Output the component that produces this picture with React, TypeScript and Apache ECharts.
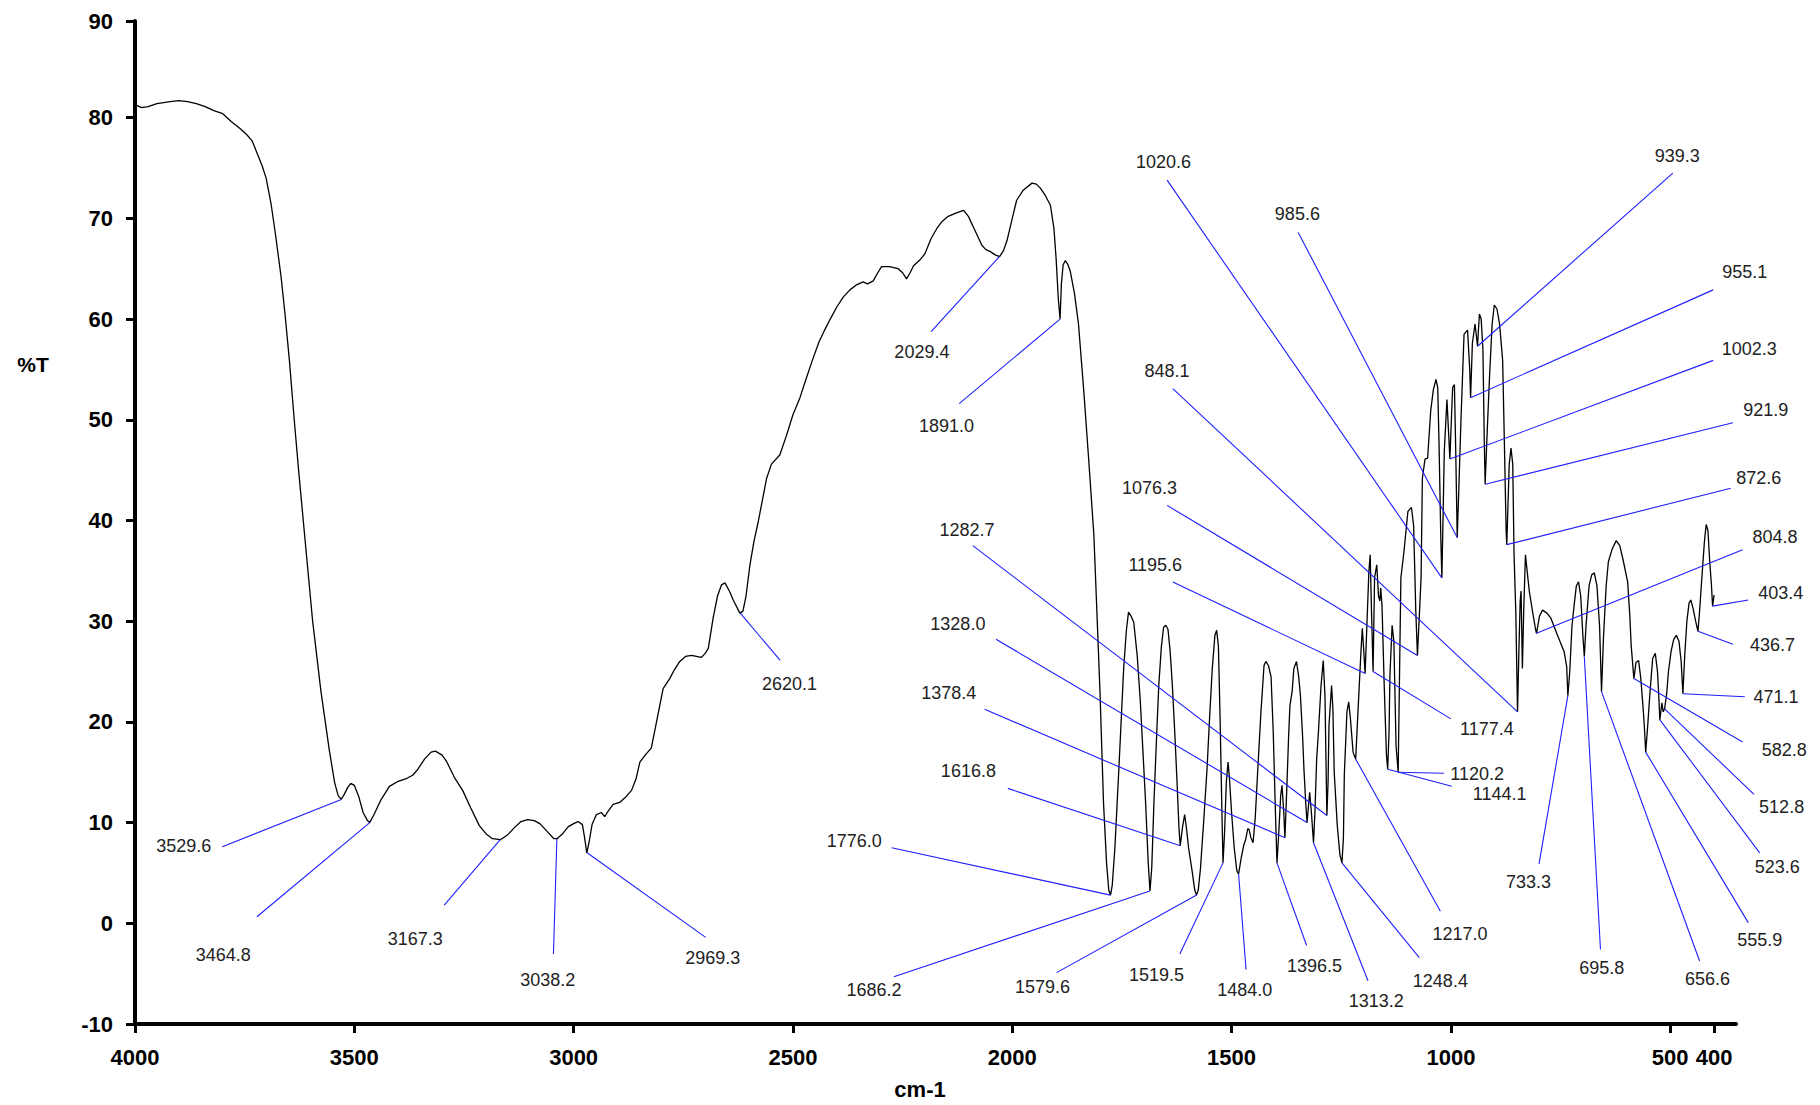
import { useEffect, useRef } from "react";
import * as echarts from "echarts";

// Spectrum: [wavenumber (cm-1), %T]
const spectrum: [number, number][] = [
  [4000, 81.3], [3985, 81.0], [3970, 81.1], [3950, 81.4], [3920, 81.6], [3900, 81.7], [3880, 81.6], [3860, 81.4],
  [3840, 81.1], [3820, 80.7], [3800, 80.4], [3780, 79.6], [3760, 78.9], [3745, 78.3], [3733, 77.7], [3720, 76.3],
  [3710, 75.2], [3701, 74.0], [3690, 71.5], [3680, 68.5], [3667, 64.2], [3658, 60.5], [3648, 55.9], [3637, 50.0],
  [3626, 44.5], [3610, 37.0], [3595, 30.0], [3576, 23.0], [3557, 17.2], [3545, 14.0], [3537, 12.7], [3530, 12.3],
  [3523, 12.8], [3515, 13.5], [3508, 13.9], [3500, 13.7], [3490, 12.6], [3480, 11.0], [3470, 10.2], [3465, 10.0],
  [3455, 10.8], [3440, 12.2], [3420, 13.6], [3400, 14.1], [3380, 14.4], [3367, 14.7], [3355, 15.3], [3340, 16.3],
  [3325, 17.0], [3315, 17.1], [3300, 16.7], [3290, 16.1], [3272, 14.5], [3253, 13.2], [3235, 11.5], [3215, 9.7],
  [3200, 8.9], [3185, 8.4], [3167, 8.3], [3150, 8.8], [3135, 9.5], [3120, 10.1], [3105, 10.3], [3090, 10.2],
  [3077, 9.9], [3060, 9.1], [3045, 8.4], [3038, 8.4], [3025, 8.9], [3012, 9.6], [3000, 9.9], [2990, 10.1],
  [2980, 9.8], [2975, 8.5], [2970, 7.0], [2965, 8.0], [2958, 9.8], [2948, 10.8], [2937, 11.0], [2929, 10.6],
  [2922, 11.1], [2910, 11.8], [2895, 12.0], [2880, 12.6], [2868, 13.2], [2858, 14.3], [2849, 16.0], [2835, 16.8],
  [2823, 17.4], [2811, 20.0], [2796, 23.3], [2781, 24.3], [2770, 25.2], [2758, 26.0], [2745, 26.5], [2731, 26.6],
  [2720, 26.5], [2709, 26.4], [2700, 26.8], [2693, 27.3], [2682, 30.3], [2672, 32.5], [2663, 33.6], [2655, 33.8],
  [2645, 33.0], [2635, 32.0], [2621, 30.8], [2614, 31.0], [2607, 32.5], [2598, 35.6], [2589, 37.9], [2579, 39.9],
  [2560, 44.2], [2549, 45.6], [2530, 46.5], [2515, 48.4], [2500, 50.5], [2484, 52.2], [2469, 54.2], [2455, 56.0],
  [2440, 57.8], [2429, 58.8], [2415, 60.0], [2400, 61.2], [2385, 62.2], [2370, 62.9], [2355, 63.4], [2340, 63.7],
  [2330, 63.5], [2317, 63.8], [2308, 64.5], [2298, 65.2], [2280, 65.2], [2260, 65.0], [2250, 64.6], [2241, 64.0],
  [2233, 64.6], [2225, 65.3], [2210, 65.9], [2199, 66.5], [2185, 68.0], [2172, 69.0], [2160, 69.7], [2146, 70.2],
  [2130, 70.5], [2111, 70.8], [2100, 70.2], [2085, 68.8], [2069, 67.3], [2060, 66.9], [2050, 66.7], [2040, 66.4],
  [2029, 66.2], [2020, 66.8], [2012, 67.8], [2000, 70.0], [1990, 71.8], [1975, 72.8], [1955, 73.5], [1945, 73.4],
  [1936, 73.0], [1925, 72.3], [1913, 71.3], [1905, 69.0], [1900, 66.0], [1895, 62.0], [1891, 60.0], [1888, 63.5],
  [1884, 65.4], [1879, 65.8], [1873, 65.4], [1868, 64.8], [1858, 62.5], [1849, 59.5], [1837, 52.9], [1826, 46.2],
  [1814, 38.6], [1808, 32.0], [1800, 23.0], [1792, 12.0], [1785, 6.0], [1780, 3.3], [1776, 2.8], [1772, 3.8],
  [1766, 7.5], [1757, 15.3], [1746, 25.3], [1740, 29.0], [1735, 30.9], [1729, 30.5], [1723, 29.9], [1715, 26.5],
  [1708, 22.0], [1702, 17.0], [1696, 12.0], [1690, 6.0], [1686, 3.2], [1682, 5.5], [1677, 12.0], [1671, 18.5],
  [1666, 23.6], [1660, 27.5], [1655, 29.4], [1650, 29.6], [1645, 29.2], [1640, 27.0], [1635, 23.6], [1629, 18.5],
  [1624, 13.7], [1620, 9.5], [1617, 7.7], [1612, 9.5], [1607, 10.8], [1603, 9.5], [1598, 7.5], [1590, 5.2],
  [1584, 3.3], [1580, 2.8], [1576, 3.3], [1571, 5.4], [1563, 10.5], [1556, 15.3], [1550, 20.5], [1544, 25.3],
  [1538, 28.6], [1534, 29.1], [1530, 27.5], [1526, 20.0], [1522, 11.0], [1519.5, 6.0], [1516, 9.0], [1512, 14.0],
  [1508, 16.0], [1505, 14.5], [1500, 11.0], [1494, 7.5], [1488, 5.2], [1484, 4.9], [1478, 6.5], [1472, 7.8],
  [1468, 8.3], [1463, 9.4], [1460, 9.3], [1456, 8.5], [1451, 8.0], [1446, 10.5], [1440, 15.5], [1433, 21.0],
  [1426, 25.6], [1422, 26.0], [1416, 25.6], [1410, 24.5], [1405, 19.0], [1400, 11.0], [1396.5, 6.0], [1393, 8.5],
  [1388, 12.7], [1385, 13.7], [1381, 11.0], [1378.4, 8.5], [1374, 13.5], [1370, 18.5], [1367, 21.6], [1362, 23.0],
  [1358, 25.3], [1352, 26.0], [1347, 24.5], [1343, 22.6], [1338, 18.5], [1335, 15.3], [1331, 12.0], [1328, 10.0],
  [1325, 11.5], [1322, 13.0], [1318, 11.0], [1313.2, 8.0], [1310, 11.0], [1306, 16.3], [1302, 19.0], [1296, 23.6],
  [1291, 26.1], [1287, 22.5], [1284, 14.0], [1282.7, 10.7], [1280, 14.0], [1278, 19.6], [1272, 23.6], [1269, 21.3],
  [1266, 15.0], [1259, 9.7], [1253, 6.8], [1248.4, 6.0], [1245, 8.5], [1243, 14.7], [1237, 21.0], [1233, 22.0],
  [1229, 20.3], [1223, 17.0], [1217, 16.3], [1213, 20.0], [1209, 23.5], [1205, 27.0], [1202, 29.3], [1199, 27.3],
  [1195.6, 24.8], [1192, 29.0], [1187, 34.9], [1184, 36.6], [1181, 31.0], [1177.4, 25.0], [1174, 34.3], [1169, 35.6],
  [1165, 32.5], [1162, 32.0], [1160, 33.3], [1157, 31.5], [1152, 23.6], [1147, 16.8], [1144.1, 15.3], [1141, 19.0],
  [1139, 24.6], [1134, 29.6], [1130, 28.0], [1125, 17.6], [1120.2, 15.0], [1117, 25.0], [1114, 34.3], [1107, 36.9],
  [1098, 40.9], [1090, 41.3], [1085, 39.5], [1080, 31.0], [1076.3, 26.6], [1072, 30.5], [1068, 34.3], [1065, 44.2],
  [1059, 46.1], [1053, 46.2], [1046, 50.9], [1040, 53.0], [1034, 54.0], [1030, 53.2], [1027, 47.6], [1023, 38.3],
  [1020.6, 34.3], [1018, 40.0], [1015, 46.9], [1009, 52.0], [1005, 48.5], [1002.3, 46.1], [998, 51.0], [996, 53.2],
  [992, 53.5], [989, 47.0], [985.6, 38.3], [982, 43.0], [977, 50.0], [970, 58.5], [962, 58.9], [957, 55.0],
  [955.1, 52.2], [951, 57.6], [945, 59.5], [941, 58.0], [939.3, 57.3], [935, 60.5], [931, 60.0], [927, 57.0],
  [924, 48.2], [921.9, 43.6], [918, 48.0], [912, 54.2], [906, 59.5], [901, 61.4], [895, 61.0], [889, 59.5],
  [882, 55.9], [878, 47.6], [874, 38.9], [872.6, 37.6], [867, 45.6], [863, 47.2], [859, 45.6], [856, 36.6],
  [852, 30.9], [848.1, 21.0], [845, 27.0], [842, 32.0], [840, 33.0], [837, 25.3], [834, 31.0], [830, 36.6],
  [825, 34.5], [821, 32.9], [814, 31.0], [807, 29.2], [804.8, 28.8], [798, 30.5], [791, 31.1], [781, 30.8],
  [772, 30.3], [757, 28.6], [742, 27.0], [736, 25.5], [733.3, 22.6], [729, 25.0], [724, 29.5], [719, 31.6],
  [714, 33.5], [709, 33.9], [704, 32.5], [699, 28.5], [695.8, 26.5], [692, 29.5], [685, 33.5], [679, 34.6],
  [673, 34.8], [667, 33.5], [661, 29.5], [656.6, 23.0], [652, 28.5], [646, 33.5], [641, 35.9], [632, 37.2],
  [623, 38.0], [615, 37.5], [608, 36.2], [597, 33.9], [592, 30.5], [589, 27.6], [582.8, 24.3], [578, 25.9],
  [572, 26.1], [567, 24.3], [562, 21.5], [559, 19.6], [555.9, 17.0], [551, 19.8], [546, 23.0], [540, 26.3],
  [534, 26.8], [529, 25.0], [526, 22.5], [523.6, 20.2], [519, 21.9], [516, 21.0], [512.8, 21.3], [508, 22.8],
  [504, 25.0], [498, 27.0], [492, 28.2], [486, 28.6], [480, 28.0], [475, 26.0], [471.1, 22.8], [467, 26.5],
  [462, 30.0], [457, 31.8], [453, 32.1], [448, 31.3], [442, 30.0], [436.7, 29.0], [433, 31.0], [429, 33.6],
  [422, 37.9], [418, 39.6], [414, 39.0], [410, 36.0], [406, 33.6], [403.4, 31.5], [400, 32.6],
];

// Peak annotations
const peakNames = [
  "3529.6", "3464.8", "3167.3", "3038.2", "2969.3", "2620.1", "2029.4", "1891.0", "1776.0", "1686.2",
  "1616.8", "1579.6", "1519.5", "1484.0", "1396.5", "1313.2", "1248.4", "1217.0", "1144.1", "1120.2",
  "1177.4", "1195.6", "1076.3", "1282.7", "1328.0", "1378.4", "848.1", "1020.6", "985.6", "939.3",
  "955.1", "1002.3", "921.9", "872.6", "804.8", "403.4", "436.7", "471.1", "582.8", "512.8",
  "523.6", "555.9", "656.6", "695.8", "733.3",
];
// where each leader starts (on the peak): [cm-1, %T]
const peakPoints: [number, number][] = [
  [3529.6, 12.3], [3464.8, 10.0], [3167.3, 8.3], [3038.2, 8.4], [2969.3, 7.0], [2620.1, 30.8], [2029.4, 66.2], [1891.0, 60.0], [1776.0, 2.8], [1686.2, 3.2],
  [1616.8, 7.7], [1579.6, 2.8], [1519.5, 6.0], [1484.0, 4.9], [1396.5, 6.0], [1313.2, 8.0], [1248.4, 6.0], [1217.0, 16.3], [1144.1, 15.3], [1120.2, 15.0],
  [1177.4, 25.0], [1195.6, 24.8], [1076.3, 26.6], [1282.7, 10.7], [1328.0, 10.0], [1378.4, 8.5], [848.1, 21.0], [1020.6, 34.3], [985.6, 38.3], [939.3, 57.3],
  [955.1, 52.2], [1002.3, 46.1], [921.9, 43.6], [872.6, 37.6], [804.8, 28.8], [403.4, 31.5], [436.7, 29.0], [471.1, 22.8], [582.8, 24.3], [512.8, 21.3],
  [523.6, 20.2], [555.9, 17.0], [656.6, 23.0], [695.8, 26.5], [733.3, 22.6],
];
// where each leader ends (near its label): [cm-1, %T]
const leaderEnds: [number, number][] = [
  [3801, 7.6], [3722, 0.65], [3295, 1.8], [3046, -3.05], [2699, -1.4], [2529, 26.1], [2185, 58.75], [2121, 51.6], [2275, 7.5], [2270, -5.3],
  [2010, 13.4], [1899, -4.9], [1618, -3.05], [1467, -4.6], [1329, -2.2], [1189, -5.7], [1072, -3.4], [1024, 1.2], [998, 13.6], [1016, 14.9],
  [1000, 20.3], [1634, 33.9], [1647, 41.5], [2090, 37.5], [2037, 28.2], [2063, 21.25], [1634, 53.1], [1647, 73.8], [1348, 68.6], [494, 74.5],
  [402, 62.9], [402, 55.9], [357, 49.7], [362, 43.2], [335, 37.1], [322, 32.1], [357, 27.7], [330, 22.5], [335, 18.0], [309, 12.8],
  [296, 7.0], [322, 0.07], [433, -3.75], [659, -2.6], [799, 5.9],
];
// label text centres: [cm-1, %T]
const labelCentres: [number, number][] = [
  [3889, 7.7], [3799, -3.1], [3361, -1.55], [3059, -5.6], [2683, -3.4], [2508, 23.8], [2206, 56.7], [2150, 49.4], [2360, 8.2], [2315, -6.6],
  [2100, 15.1], [1931, -6.3], [1671, -5.1], [1470, -6.6], [1311, -4.2], [1170, -7.7], [1024, -5.7], [979, -1.1], [889, 12.8], [940, 14.8],
  [918, 19.3], [1674, 35.6], [1687, 43.2], [2103, 39.1], [2124, 29.7], [2145, 22.9], [1647, 54.8], [1655, 75.6], [1350, 70.4], [484, 76.2],
  [330, 64.7], [320, 57.0], [282, 51.0], [298, 44.2], [261, 38.4], [248, 32.8], [267, 27.6], [259, 22.5], [240, 17.2], [246, 11.5],
  [256, 5.6], [296, -1.7], [415, -5.5], [656, -4.4], [823, 4.1],
];

const xTickValues = [4000, 3500, 3000, 2500, 2000, 1500, 1000, 500, 400];
const xMin = 350;
const xMax = 4000;
// the top tick ("90") sits at the top end of the axis in the reference
const yMin = -10;
const yMax = 89.6;
const yTickValues = [-10, 0, 10, 20, 30, 40, 50, 60, 70, 80, 89.6];
const yTickLabels = ["-10", "0", "10", "20", "30", "40", "50", "60", "70", "80", "90"];

export default function App() {
  const ref = useRef<HTMLDivElement>(null);

  useEffect(() => {
    if (!ref.current) return;
    const chart = echarts.init(ref.current, null, { renderer: "svg" });
    const font = "'Liberation Sans', Arial, sans-serif";

    const annotationData = peakNames.map((_, i) => [
      peakPoints[i][0], peakPoints[i][1],
      leaderEnds[i][0], leaderEnds[i][1],
      labelCentres[i][0], labelCentres[i][1],
    ]);

    chart.setOption({
      animation: false,
      backgroundColor: "#ffffff",
      grid: { left: 135, right: 84, top: 21, bottom: 81 },
      xAxis: {
        type: "value",
        inverse: true,
        min: xMin,
        max: xMax,
        axisLine: { onZero: false, lineStyle: { color: "#000", width: 4 } },
        axisTick: { show: true, customValues: xTickValues, length: 9, lineStyle: { color: "#000", width: 3 } },
        axisLabel: {
          customValues: xTickValues,
          formatter: (v: number) => String(v),
          color: "#000",
          fontFamily: font,
          fontWeight: "bold",
          fontSize: 22,
          margin: 22,
        },
        splitLine: { show: false },
      },
      yAxis: {
        type: "value",
        min: yMin,
        max: yMax,
        axisLine: { show: true, onZero: false, lineStyle: { color: "#000", width: 4 } },
        axisTick: { show: true, customValues: yTickValues, length: 9, lineStyle: { color: "#000", width: 3 } },
        axisLabel: {
          customValues: yTickValues,
          formatter: (v: number) => {
            const i = yTickValues.indexOf(v);
            return i >= 0 ? yTickLabels[i] : String(v);
          },
          color: "#000",
          fontFamily: font,
          fontWeight: "bold",
          fontSize: 22,
          margin: 22,
        },
        splitLine: { show: false },
      },
      series: [
        {
          type: "line",
          data: spectrum,
          showSymbol: false,
          symbol: "none",
          lineStyle: { color: "#000", width: 1.3 },
          z: 3,
        },
        {
          type: "custom",
          data: annotationData,
          clip: false,
          encode: { x: [0, 2, 4], y: [1, 3, 5] },
          z: 4,
          renderItem: (params: any, api: any) => {
            const p0 = api.coord([api.value(0), api.value(1)]);
            const p1 = api.coord([api.value(2), api.value(3)]);
            const pt = api.coord([api.value(4), api.value(5)]);
            return {
              type: "group",
              children: [
                {
                  type: "line",
                  shape: { x1: p0[0], y1: p0[1], x2: p1[0], y2: p1[1] },
                  style: { stroke: "#1f1fff", lineWidth: 1.1 },
                },
                {
                  type: "text",
                  x: pt[0],
                  y: pt[1],
                  style: {
                    text: peakNames[params.dataIndex],
                    align: "center",
                    verticalAlign: "middle",
                    fill: "#222",
                    fontSize: 18,
                    fontFamily: font,
                  },
                },
              ],
            };
          },
        },
      ],
      graphic: [
        {
          type: "text",
          x: 33,
          y: 364,
          style: {
            text: "%T",
            align: "center",
            verticalAlign: "middle",
            fill: "#000",
            fontSize: 21,
            fontWeight: "bold",
            fontFamily: font,
          },
        },
        {
          type: "text",
          x: 920,
          y: 1089,
          style: {
            text: "cm-1",
            align: "center",
            verticalAlign: "middle",
            fill: "#000",
            fontSize: 22,
            fontWeight: "bold",
            fontFamily: font,
          },
        },
      ],
    });

    return () => chart.dispose();
  }, []);

  return (
    <div
      ref={ref}
      style={{ position: "fixed", left: 0, top: 0, width: 1820, height: 1105, background: "#fff" }}
    />
  );
}
